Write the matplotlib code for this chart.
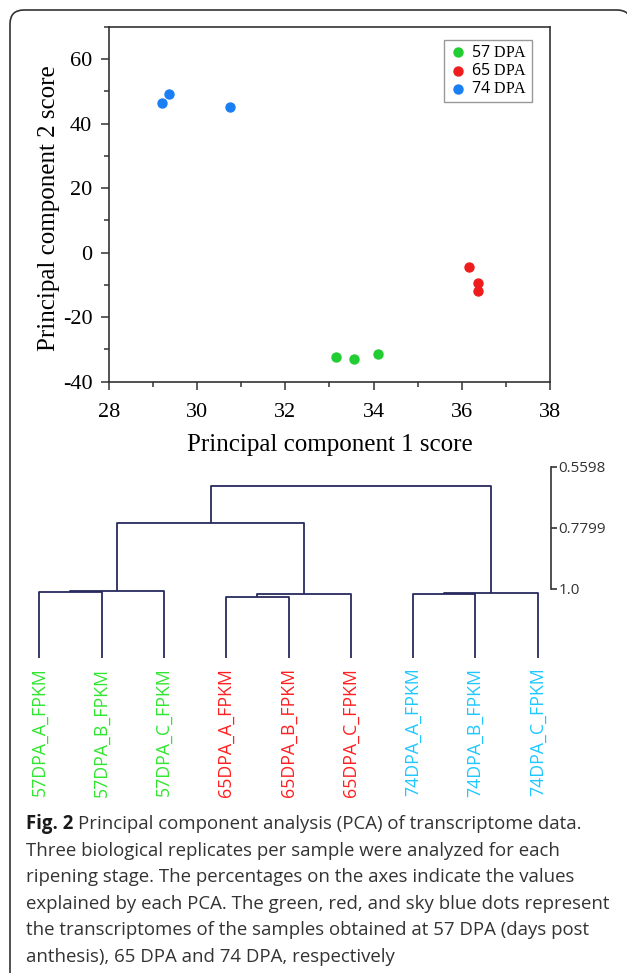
import numpy as np
import matplotlib.pyplot as plt
from matplotlib.patches import PathPatch
from matplotlib.path import Path
from matplotlib.transforms import IdentityTransform
from matplotlib.ticker import MultipleLocator

# tamaño de la figura en pixeles
W, H = 627, 973

# puntajes PCA
pc1_57 = [33.15, 33.55, 34.10]
pc2_57 = [-32.5, -33.0, -31.4]
pc1_65 = [36.17, 36.36, 36.36]
pc2_65 = [-4.4, -9.5, -11.9]
pc1_74 = [29.21, 29.37, 30.75]
pc2_74 = [46.4, 49.3, 45.1]

etapas = ["57", "65", "74"]
colores_etapa = ["#22cc33", "#ee1c1c", "#1a7ff2"]

# dendrograma: hojas en orden y uniones (id izq, id der, altura)
hojas = ["57DPA_A_FPKM", "57DPA_B_FPKM", "57DPA_C_FPKM",
         "65DPA_A_FPKM", "65DPA_B_FPKM", "65DPA_C_FPKM",
         "74DPA_A_FPKM", "74DPA_B_FPKM", "74DPA_C_FPKM"]
colores_hojas = ["#2fe62f"] * 3 + ["#ff2020"] * 3 + ["#1fc8ff"] * 3
uniones = [(0, 1, 1.012), (9, 2, 1.006),
           (3, 4, 1.028), (11, 5, 1.019),
           (6, 7, 1.018), (13, 8, 1.013),
           (10, 12, 0.7625), (15, 14, 0.6293)]
base_hojas = 1.2485
escala = [0.5598, 0.7799, 1.0]
escala_txt = ["0.5598", "0.7799", "1.0"]

lineas_pie = [
    "Three biological replicates per sample were analyzed for each",
    "ripening stage. The percentages on the axes indicate the values",
    "explained by each PCA. The green, red, and sky blue dots represent",
    "the transcriptomes of the samples obtained at 57 DPA (days post",
    "anthesis), 65 DPA and 74 DPA, respectively",
]

plt.rcParams["axes.unicode_minus"] = False
plt.rcParams["mathtext.fontset"] = "custom"
plt.rcParams["mathtext.rm"] = "Liberation Serif"

fig = plt.figure(figsize=(W / 100, H / 100), dpi=100)

# marco redondeado en pixeles (solo lados izquierdo y superior visibles)
r, izq, arr, der = 14, 10, H - 10, 631
verts = [(izq, -5), (izq, arr - r), (izq, arr), (izq + r, arr),
         (der - r, arr), (der, arr), (der, arr - r), (der, -5)]
codes = [Path.MOVETO, Path.LINETO, Path.CURVE3, Path.CURVE3,
         Path.LINETO, Path.CURVE3, Path.CURVE3, Path.LINETO]
marco = PathPatch(Path(verts, codes), transform=IdentityTransform(),
                  fill=False, edgecolor="#333333", linewidth=1.2)
fig.patches.append(marco)

# grafica PCA
ax1 = fig.add_axes([109 / W, 1 - 381.7 / H, 441 / W, 355 / H])
datos = [(pc1_57, pc2_57), (pc1_65, pc2_65), (pc1_74, pc2_74)]
for (x, y), e, c in zip(datos, etapas, colores_etapa):
    ax1.scatter(x, y, s=42, color=c, label=e + r" $\mathrm{DPA}$", zorder=3)
ax1.set_xlim(28, 38)
ax1.set_ylim(-40, 70)
ax1.xaxis.set_major_locator(MultipleLocator(2))
ax1.xaxis.set_minor_locator(MultipleLocator(1))
ax1.set_yticks([-40, -20, 0, 20, 40, 60])
ax1.yaxis.set_minor_locator(MultipleLocator(10))
ax1.tick_params(which="both", direction="out", top=False, right=False,
                color="#333333", width=1.1)
ax1.tick_params(which="major", length=6, labelsize=16, pad=6)
ax1.tick_params(axis="x", which="major", pad=9)
ax1.tick_params(which="minor", length=3.5)
for lbl in ax1.get_xticklabels() + ax1.get_yticklabels():
    lbl.set_fontfamily("Liberation Serif")
for s in ax1.spines.values():
    s.set_color("#333333")
    s.set_linewidth(1.2)
ax1.set_xlabel("Principal component 1 score", family="Liberation Serif",
               fontsize=18, va="top")
ax1.xaxis.set_label_coords(0.5, -0.148)
ax1.set_ylabel("Principal component 2 score", family="Liberation Serif",
               fontsize=18)
ax1.yaxis.set_label_coords(-0.112, 0.49)
leg = ax1.legend(loc="upper right", bbox_to_anchor=(0.96, 0.963),
                 prop={"family": "Open Sans", "size": 11.5}, fancybox=False,
                 edgecolor="#999999", framealpha=1, handletextpad=0.2,
                 labelspacing=0.15, borderpad=0.3, handlelength=1.2,
                 borderaxespad=0)
leg.get_frame().set_linewidth(1.0)

# dendrograma
x0, x8 = 39.3, 537.7
ax2 = fig.add_axes([x0 / W, 1 - 658 / H, (x8 - x0) / W, (658 - 466.7) / H])
ax2.set_xlim(0, 8)
ax2.set_ylim(base_hojas, escala[0])
pos = {i: (float(i), base_hojas) for i in range(len(hojas))}
for k, (a, b, h) in enumerate(uniones):
    xa, ha = pos[a]
    xb, hb = pos[b]
    ax2.plot([xa, xa, xb, xb], [ha, h, h, hb], color="#282a5e",
             linewidth=1.3, clip_on=False, solid_capstyle="butt")
    pos[len(hojas) + k] = ((xa + xb) / 2, h)

for s in ["top", "bottom", "left"]:
    ax2.spines[s].set_visible(False)
ax2.spines["right"].set_position(("data", (550.7 - x0) / ((x8 - x0) / 8)))
ax2.spines["right"].set_bounds(escala[0], escala[-1])
ax2.spines["right"].set_color("#333333")
ax2.spines["right"].set_linewidth(1.2)
ax2.yaxis.tick_right()
ax2.set_yticks(escala, escala_txt)
ax2.tick_params(axis="y", direction="out", length=4.5, width=1.2,
                color="#333333", pad=1, labelsize=11, labelcolor="#333333")
for lbl in ax2.get_yticklabels():
    lbl.set_fontfamily("Open Sans")
ax2.set_xticks(range(len(hojas)), hojas, rotation=90)
ax2.tick_params(axis="x", length=0, pad=7, labelsize=12.8)
for lbl, c in zip(ax2.get_xticklabels(), colores_hojas):
    lbl.set_color(c)
    lbl.set_fontfamily("Open Sans")

# pie de figura
tam = 13.4
t1 = fig.text(26 / W, 1 - 829 / H, "Fig. 2", fontsize=tam, family="Open Sans",
              weight="bold", color="#1a1a1a", va="baseline")
fig.canvas.draw()
bb = t1.get_window_extent()
fig.text(bb.x1 / W + 5 / W, 1 - 829 / H, "Principal component analysis (PCA) of transcriptome data.",
         fontsize=tam, family="Open Sans", color="#333333", va="baseline")
for i, linea in enumerate(lineas_pie):
    fig.text(26 / W, 1 - (829 + 26.6 * (i + 1)) / H, linea, fontsize=tam,
             family="Open Sans", color="#333333", va="baseline")

fig.savefig("out.png", dpi=100)
